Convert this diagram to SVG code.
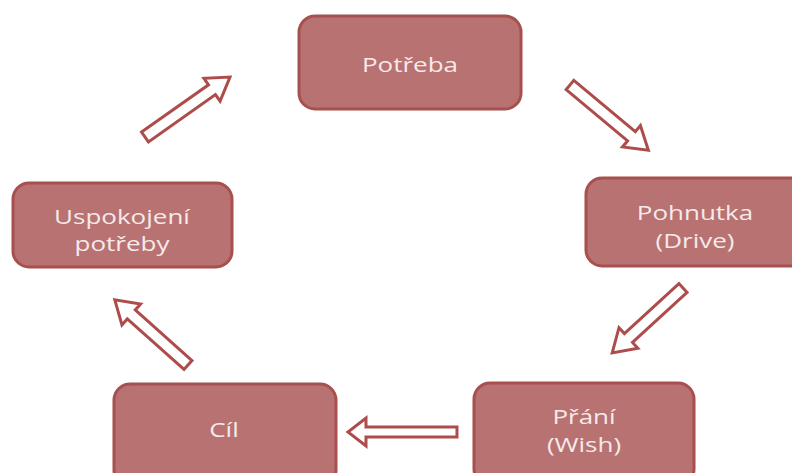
<svg xmlns="http://www.w3.org/2000/svg" width="792" height="473" viewBox="0 0 792 473">
<style>
.box{fill:#B87272;stroke:#A84F4F;stroke-width:3}
.lbl{font-family:"Open Sans","DejaVu Sans",sans-serif;font-size:20px;fill:#F6EAEA;text-anchor:middle}
.arr{fill:#FFFFFF;stroke:#AE4C4C;stroke-width:3;stroke-linejoin:miter}
</style>
<rect width="792" height="473" fill="#FFFFFF"/>
<g id="connectors">
<path class="arr" transform="translate(145,137) rotate(-35.2)" d="M0,-6 H82 V-14 L104,0 L82,14 V6 H0 Z"/>
<path class="arr" transform="translate(570,85) rotate(39.8)" d="M0,-6 H80 V-14 L102,0 L80,14 V6 H0 Z"/>
<path class="arr" transform="translate(683,288) rotate(137.5)" d="M0,-6 H74 V-14 L96,0 L74,14 V6 H0 Z"/>
<path class="arr" transform="translate(457,432) rotate(180)" d="M0,-5 H91 V-14 L109,0 L91,14 V5 H0 Z"/>
<path class="arr" transform="translate(188,365) rotate(-138.3)" d="M0,-6 H76 V-14 L98,0 L76,14 V6 H0 Z"/>
</g>
<g id="n-potreba">
<rect class="box" x="299" y="16" width="222" height="93" rx="16"/>
<text class="lbl" transform="translate(410,72) scale(1.3,1)">Potřeba</text>
</g>
<g id="n-pohnutka">
<rect class="box" x="586" y="178" width="222" height="88" rx="16"/>
<text class="lbl" transform="translate(695,220) scale(1.3,1)">Pohnutka</text>
<text class="lbl" transform="translate(695,248) scale(1.3,1)">(Drive)</text>
</g>
<g id="n-prani">
<rect class="box" x="474" y="383" width="220" height="102" rx="16"/>
<text class="lbl" transform="translate(584,424) scale(1.3,1)">Přání</text>
<text class="lbl" transform="translate(584,452) scale(1.3,1)">(Wish)</text>
</g>
<g id="n-cil">
<rect class="box" x="114" y="384" width="222" height="102" rx="16"/>
<text class="lbl" transform="translate(224,437) scale(1.3,1)">Cíl</text>
</g>
<g id="n-uspokojeni">
<rect class="box" x="13" y="183" width="219" height="84" rx="16"/>
<text class="lbl" transform="translate(122,224) scale(1.3,1)">Uspokojení</text>
<text class="lbl" transform="translate(122,251) scale(1.3,1)">potřeby</text>
</g>
</svg>
